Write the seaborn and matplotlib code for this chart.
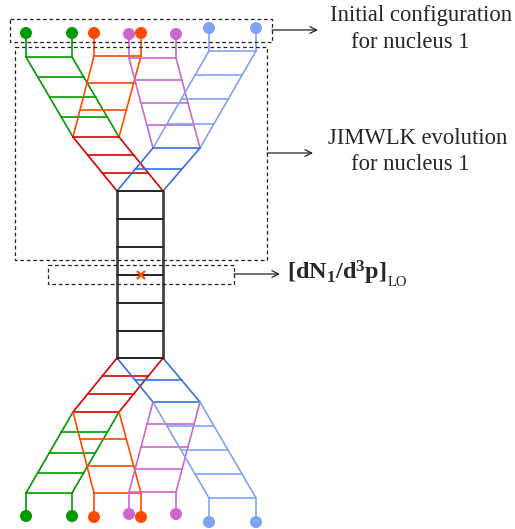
import numpy as np
import pandas as pd
import seaborn as sns
import matplotlib.pyplot as plt

# ladder data: (colour key, top-left, top-right, bottom-left, bottom-right, rung heights)
top_ladders = [
    ("green", (26, 57), (72, 57), (73, 137), (119, 137), [57, 77, 97, 117]),
    ("orange", (94, 56), (141, 56), (73, 137), (119, 137), [56, 83, 110]),
    ("purple", (129, 58), (176, 58), (153, 148), (200, 148), [58, 80, 103, 125]),
    ("lightblue", (209, 51), (256, 51), (153, 148), (200, 148), [51, 75, 99, 124]),
    ("red", (73, 137), (119, 137), (117, 191), (163, 191), [137, 155, 173]),
    ("blue", (153, 148), (200, 148), (117, 191), (163, 191), [148, 169]),
]
box_ladder = ("black", (117, 191), (163, 191), (117, 358), (163, 358),
              [191, 219, 247, 275, 303, 331, 358])
bottom_ladders = [
    ("red", (117, 358), (163, 358), (73, 412), (119, 412), [376, 394, 412]),
    ("blue", (117, 358), (163, 358), (153, 402), (200, 402), [380, 402]),
    ("green", (73, 412), (119, 412), (26, 493), (72, 493), [432, 453, 473, 493]),
    ("orange", (73, 412), (119, 412), (94, 493), (141, 493), [439, 466, 493]),
    ("purple", (153, 402), (200, 402), (129, 492), (176, 492), [424, 447, 469, 492]),
    ("lightblue", (153, 402), (200, 402), (209, 498), (256, 498), [426, 450, 474, 498]),
]

dot_x = [26, 72, 94, 141, 129, 176, 209, 256] * 2
dot_y = [33, 33, 33, 33, 34, 34, 28, 28, 516, 516, 517, 517, 514, 514, 522, 522]
dot_col = ["green", "green", "orange", "orange", "purple", "purple", "lightblue", "lightblue"] * 2
stem_end = [57, 57, 56, 56, 58, 58, 51, 51, 493, 493, 493, 493, 492, 492, 498, 498]

palette = {"green": "#009a00", "orange": "#ff4a00", "purple": "#cc66cc",
           "lightblue": "#80a4f4", "red": "#dd0000", "blue": "#3a6fdc",
           "black": "#222222"}

sns.set_theme(style="white")
plt.rcParams['font.family'] = ['Liberation Serif', 'DejaVu Serif']
plt.rcParams['mathtext.fontset'] = 'custom'
plt.rcParams['mathtext.rm'] = 'Liberation Serif'
plt.rcParams['mathtext.bf'] = 'Liberation Serif:bold'

fig = plt.figure(figsize=(5.15, 5.29), dpi=100)
ax = fig.add_axes([0, 0, 1, 1])
ax.set_xlim(0, 515)
ax.set_ylim(529, 0)
ax.axis("off")


def rail_x(p0, p1, y):
    return p0[0] + (p1[0] - p0[0]) * (y - p0[1]) / (p1[1] - p0[1])


def draw_ladder(lad, rail_lw=1.2, rung_lw=1.2, rail_col=None):
    name, tl, tr, bl, br, rungs = lad
    c = palette[name]
    rc = rail_col or c
    ax.plot([tl[0], bl[0]], [tl[1], bl[1]], color=rc, lw=rail_lw, solid_capstyle="round")
    ax.plot([tr[0], br[0]], [tr[1], br[1]], color=rc, lw=rail_lw, solid_capstyle="round")
    for y in rungs:
        ax.plot([rail_x(tl, bl, y), rail_x(tr, br, y)], [y, y], color=c, lw=rung_lw)


for lad in top_ladders + bottom_ladders:
    draw_ladder(lad)
draw_ladder(box_ladder, rail_lw=2.0, rung_lw=1.4, rail_col="#444444")

# stems from the dots to the ladders
for x, y0, y1, c in zip(dot_x, dot_y, stem_end, dot_col):
    ax.plot([x, x], [y0, y1], color=palette[c], lw=1.2)

dots = pd.DataFrame({"x": dot_x, "y": dot_y, "c": dot_col})
sns.scatterplot(data=dots, x="x", y="y", hue="c", palette=palette, s=75,
                edgecolor="none", legend=False, ax=ax, zorder=5)

# the produced gluon
ax.plot([141], [275], marker="x", color="#ff4a00", ms=6, mew=1.6, zorder=6)

# dashed boxes
dash = (0, (3, 2.2))
boxes = [(10, 19, 272, 42), (15, 47, 267, 260), (48, 265, 234, 284)]
for x0, y0, x1, y1 in boxes:
    ax.plot([x0, x1, x1, x0, x0], [y0, y0, y1, y1, y0], color="#222222",
            lw=0.9, linestyle=dash)

# arrows
arrows = [((272, 30), (318, 30)), ((267, 153), (313, 153)), ((234, 274), (280, 274))]
for a, b in arrows:
    ax.annotate("", xy=b, xytext=a,
                arrowprops=dict(arrowstyle="->", color="#222222", lw=0.9,
                                shrinkA=0, shrinkB=0))

fs = 16.3
ax.text(421, 15, "Initial configuration", ha="center", va="center", fontsize=fs)
ax.text(410, 43, "for nucleus 1", ha="center", va="center", fontsize=fs)
ax.text(418, 138, "JIMWLK evolution", ha="center", va="center", fontsize=fs)
ax.text(410, 164, "for nucleus 1", ha="center", va="center", fontsize=fs)
lab = ax.text(287, 273, r"$\mathbf{[dN_1/d^3p]}$", ha="left", va="center", fontsize=17.5)

# put the LO subscript right after the bracket
fig.canvas.draw()
bb = lab.get_window_extent()
x_end = ax.transData.inverted().transform((bb.x1, bb.y0))[0]
ax.text(x_end + 1, 282, "LO", ha="left", va="center", fontsize=10.5)

plt.savefig("out.png", dpi=100)
plt.close()
